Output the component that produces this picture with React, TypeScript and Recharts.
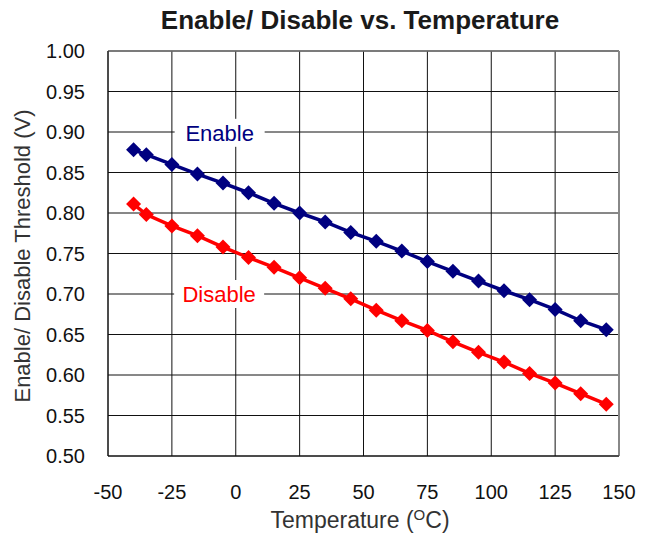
import { LineChart, Line, XAxis, YAxis, CartesianGrid, ReferenceDot, ReferenceLine } from "recharts";

const temperatures = [-40, -35, -25, -15, -5, 5, 15, 25, 35, 45, 55, 65, 75, 85, 95, 105, 115, 125, 135, 145];
const enableValues = [0.878, 0.872, 0.86, 0.848, 0.837, 0.825, 0.812, 0.8, 0.789, 0.776, 0.765, 0.753, 0.74, 0.728, 0.716, 0.704, 0.693, 0.681, 0.667, 0.656];
const disableValues = [0.811, 0.798, 0.784, 0.772, 0.758, 0.745, 0.733, 0.72, 0.707, 0.694, 0.68, 0.667, 0.655, 0.641, 0.628, 0.616, 0.602, 0.59, 0.577, 0.564];

const xTicks = [-50, -25, 0, 25, 50, 75, 100, 125, 150];
const yTicks = [0.5, 0.55, 0.6, 0.65, 0.7, 0.75, 0.8, 0.85, 0.9, 0.95, 1.0];

// where the series names sit (data coordinates)
const enableLabel = { x: -6.3, y: 0.899, text: "Enable" };
const disableLabel = { x: -6.5, y: 0.7, text: "Disable" };

const data = temperatures.map((t, i) => ({ temp: t, enable: enableValues[i], disable: disableValues[i] }));

const FONT = "'Liberation Sans', Arial, sans-serif";
const NAVY = "#000080";
const RED = "#ff0000";

const Diamond = ({ cx, cy, fill }: any) => {
  if (cx == null || cy == null) return null;
  const s = 7.5;
  return <polygon points={`${cx},${cy - s} ${cx + s},${cy} ${cx},${cy + s} ${cx - s},${cy}`} fill={fill} />;
};

const YTick = ({ x, y, payload }: any) => (
  <text x={x - 23} y={y} dy="0.36em" textAnchor="end" fontSize={20} fontFamily={FONT} fill="#111">
    {Number(payload.value).toFixed(2)}
  </text>
);

const XTick = ({ x, y, payload }: any) => (
  <text x={x} y={y + 36} dy="0.36em" textAnchor="middle" fontSize={20} fontFamily={FONT} fill="#111">
    {payload.value}
  </text>
);

const SeriesName = ({ cx, cy, text, color }: any) => (
  <g>
    <rect x={cx - 45} y={cy - 14} width={90} height={28} fill="#fff" />
    <text x={cx} y={cy} dy="0.36em" textAnchor="middle" fontSize={22} fontFamily={FONT} fill={color}>
      {text}
    </text>
  </g>
);

export default function App() {
  return (
    <div style={{ position: "absolute", left: 0, top: 0, width: 654, height: 542, background: "#fff" }}>
      <LineChart width={654} height={542} data={data} margin={{ top: 51, right: 35, bottom: 0, left: 0 }}>
        <CartesianGrid stroke="#111" strokeWidth={1} strokeDasharray="none" />
        <XAxis
          dataKey="temp"
          type="number"
          domain={[-50, 150]}
          ticks={xTicks}
          height={86}
          tickSize={0}
          tickMargin={0}
          stroke="#111"
          tick={<XTick />}
        />
        <YAxis
          type="number"
          domain={[0.5, 1.0]}
          ticks={yTicks}
          width={108}
          tickSize={0}
          tickMargin={0}
          stroke="#111"
          tick={<YTick />}
        />
        <ReferenceLine y={1.0} stroke="#777" strokeWidth={1.5} />
        <ReferenceLine x={150} stroke="#888" strokeWidth={2} />
        <Line
          dataKey="enable"
          stroke={NAVY}
          strokeWidth={3.5}
          dot={<Diamond fill={NAVY} />}
          activeDot={false}
          isAnimationActive={false}
        />
        <Line
          dataKey="disable"
          stroke={RED}
          strokeWidth={3.5}
          dot={<Diamond fill={RED} />}
          activeDot={false}
          isAnimationActive={false}
        />
        <ReferenceDot
          x={enableLabel.x}
          y={enableLabel.y}
          shape={(p: any) => <SeriesName cx={p.cx} cy={p.cy} text={enableLabel.text} color={NAVY} />}
        />
        <ReferenceDot
          x={disableLabel.x}
          y={disableLabel.y}
          shape={(p: any) => <SeriesName cx={p.cx} cy={p.cy} text={disableLabel.text} color={RED} />}
        />
        <text x={360} y={29} textAnchor="middle" fontSize={26} fontWeight="bold" fontFamily={FONT} fill="#1a1a1a">
          Enable/ Disable vs. Temperature
        </text>
        <text
          x={22}
          y={256}
          transform="rotate(-90 22 256)"
          textAnchor="middle"
          dy="0.36em"
          fontSize={22}
          fontFamily={FONT}
          fill="#333"
        >
          Enable/ Disable Threshold (V)
        </text>
        <text x={360} y={528} textAnchor="middle" fontSize={23} fontFamily={FONT} fill="#333">
          Temperature (<tspan dy={-8} fontSize={15}>O</tspan>
          <tspan dy={8}>C)</tspan>
        </text>
      </LineChart>
    </div>
  );
}
